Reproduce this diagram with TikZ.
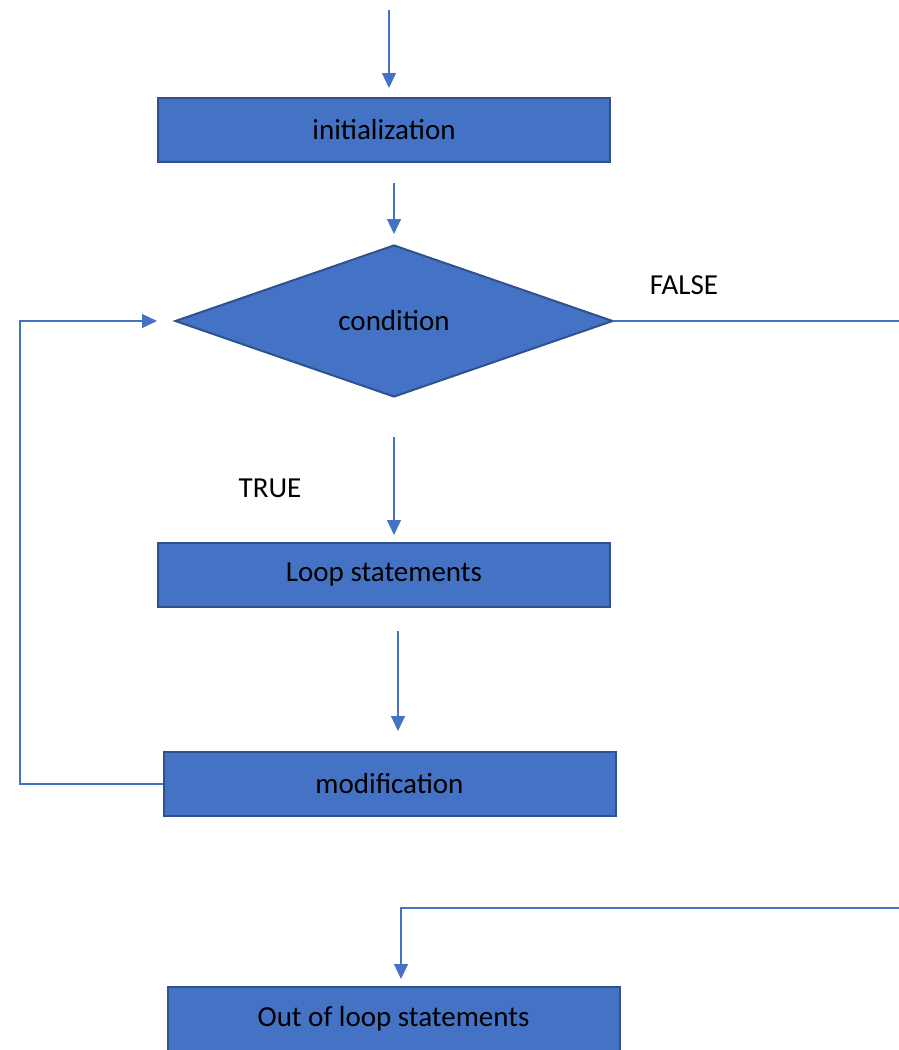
\documentclass[tikz,border=0pt]{standalone}
\usepackage{fontspec}
\setmainfont{Carlito}
\usetikzlibrary{shapes.geometric,arrows.meta}

\definecolor{boxblue}{HTML}{4472C4}
\definecolor{edgeblue}{HTML}{2F528F}

\tikzset{
  block/.style={rectangle, fill=boxblue, draw=edgeblue, line width=2pt,
    minimum width=452pt, minimum height=64pt, inner sep=0pt,
    font=\fontsize{29}{34}\selectfont},
  decision/.style={diamond, fill=boxblue, draw=edgeblue, line width=2pt,
    aspect=2.88, minimum width=438pt, minimum height=152pt, inner sep=0pt,
    font=\fontsize{29}{34}\selectfont},
  flow/.style={draw=boxblue, line width=1.3pt, -{Triangle[width=14pt,length=15pt]}},
  wire/.style={draw=boxblue, line width=1.3pt},
  tag/.style={font=\fontsize{29}{34}\selectfont}
}

\begin{document}
\begin{tikzpicture}[x=1pt,y=-1pt]
        \useasboundingbox (0,0) rectangle (899,1050);
        % boxes
        \node[block] (init) at (384,130) {initialization};
        \node[decision] (cond) at (394,321) {condition};
        \node[block] (loop) at (384,575) {Loop statements};
        \node[block] (mod) at (389.5,784) {modification};
        \node[block] (out) at (393.5,1019) {Out of loop statements};
        % free ends
        \coordinate (start) at (389,10);
        \coordinate (falseend) at (899,321);
        \coordinate (outstart) at (899,908);
        \coordinate (back) at (20,784);
        % arrows
        \draw[flow, shorten >=9pt] (start) -- (start |- init.north);
        \draw[flow, shorten <=20pt, shorten >=10pt] (init.south -| cond.north) -- (cond.north);
        \draw[flow, shorten <=39pt, shorten >=7pt] (cond.south) -- (cond.south |- loop.north);
        \draw[flow, shorten <=23pt, shorten >=20pt] ([xshift=14pt]loop.south) -- ([xshift=8.5pt]mod.north);
        \draw[flow, shorten >=17pt] (mod.west) -- (back) |- (cond.west);
        \draw[wire] (cond.east) -- (falseend);
        \draw[flow, shorten >=7pt] (outstart) -| ([xshift=7.5pt]out.north);
        % labels
        \node[tag] (false) at (684,285) {FALSE};
        \node[tag] (true) at (270,488) {TRUE};
    \end{tikzpicture}
\end{document}
